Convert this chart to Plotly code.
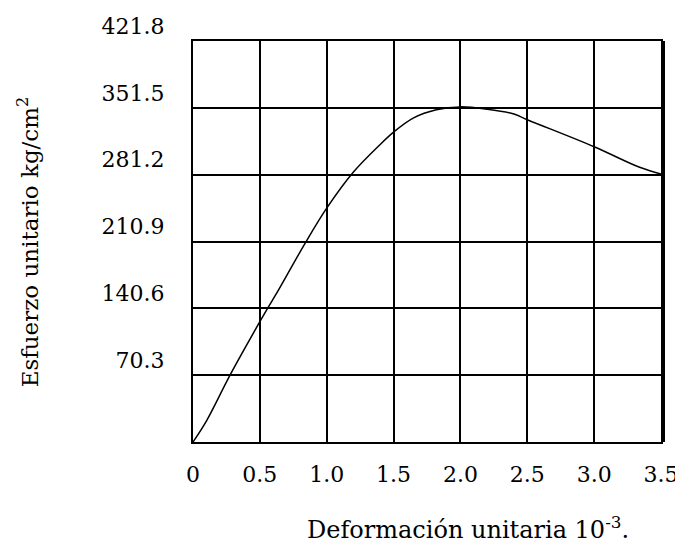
import plotly.graph_objects as go

# Data
strain = [0, 0.1, 0.277, 0.5, 0.55, 0.64, 0.838, 1.0, 1.2, 1.4, 1.5, 1.65, 1.82, 2.0, 2.2, 2.4, 2.5, 3.0, 3.34, 3.5]
stress = [0, 22, 70.3, 126.5, 138.8, 160, 209, 246, 284, 313, 326, 341, 349.5, 352.5, 350, 345, 339, 310.6, 289, 282]

x_ticks = [0, 0.5, 1.0, 1.5, 2.0, 2.5, 3.0, 3.5]
x_tick_labels = ["0", "0.5", "1.0", "1.5", "2.0", "2.5", "3.0", "3.5"]
y_ticks = [70.3, 140.6, 210.9, 281.2, 351.5, 421.8]
y_tick_labels = ["70.3", "140.6", "210.9", "281.2", "351.5", "421.8"]

x_title = "Deformación unitaria 10<sup>-3</sup>."
y_title = "Esfuerzo unitario kg/cm<sup>2</sup>"

FONT = "DejaVu Serif"

fig = go.Figure()
fig.add_trace(go.Scatter(
    x=strain, y=stress, mode="lines",
    line=dict(color="black", width=1.5, shape="spline", smoothing=1.0),
    showlegend=False, hoverinfo="skip",
))
# invisible trace on a right axis to draw the thick right border
fig.add_trace(go.Scatter(x=[strain[0]], y=[stress[0]], yaxis="y2", mode="markers",
                         marker=dict(opacity=0), showlegend=False, hoverinfo="skip"))

fig.update_layout(
    width=675, height=538,
    margin=dict(l=185, r=22, t=33, b=104),
    paper_bgcolor="white", plot_bgcolor="white",
    font=dict(family=FONT, color="black", size=20),
    xaxis=dict(
        range=[0, 3.5], tickvals=x_ticks, ticktext=x_tick_labels,
        showgrid=True, gridcolor="black", gridwidth=2,
        showline=True, linecolor="black", linewidth=2, mirror=True,
        zeroline=False, ticks="", ticklabelstandoff=12, automargin=False,
        tickfont=dict(family=FONT, size=22, color="black"),
    ),
    yaxis=dict(
        range=[0, 421.8], tickvals=y_ticks, ticktext=y_tick_labels,
        showgrid=True, gridcolor="black", gridwidth=2,
        showline=True, linecolor="black", linewidth=2, mirror=True,
        zeroline=False, ticks="", ticklabelstandoff=22, ticklabelshift=-15,
        automargin=False,
        tickfont=dict(family=FONT, size=22, color="black"),
    ),
    yaxis2=dict(
        overlaying="y", side="right", range=[0, 421.8], automargin=False,
        showline=True, linecolor="black", linewidth=4,
        showgrid=False, showticklabels=False, ticks="", zeroline=False,
    ),
    annotations=[
        dict(
            text=x_title, xref="paper", yref="paper", x=0.588, y=-0.215,
            xanchor="center", yanchor="middle", showarrow=False,
            font=dict(family=FONT, size=24, color="black"),
        ),
        dict(
            text=y_title, xref="paper", yref="paper", x=-0.353, y=0.5,
            xanchor="center", yanchor="middle", showarrow=False, textangle=-90,
            font=dict(family=FONT, size=23, color="black"),
        ),
    ],
)

fig.write_html("out.html")
